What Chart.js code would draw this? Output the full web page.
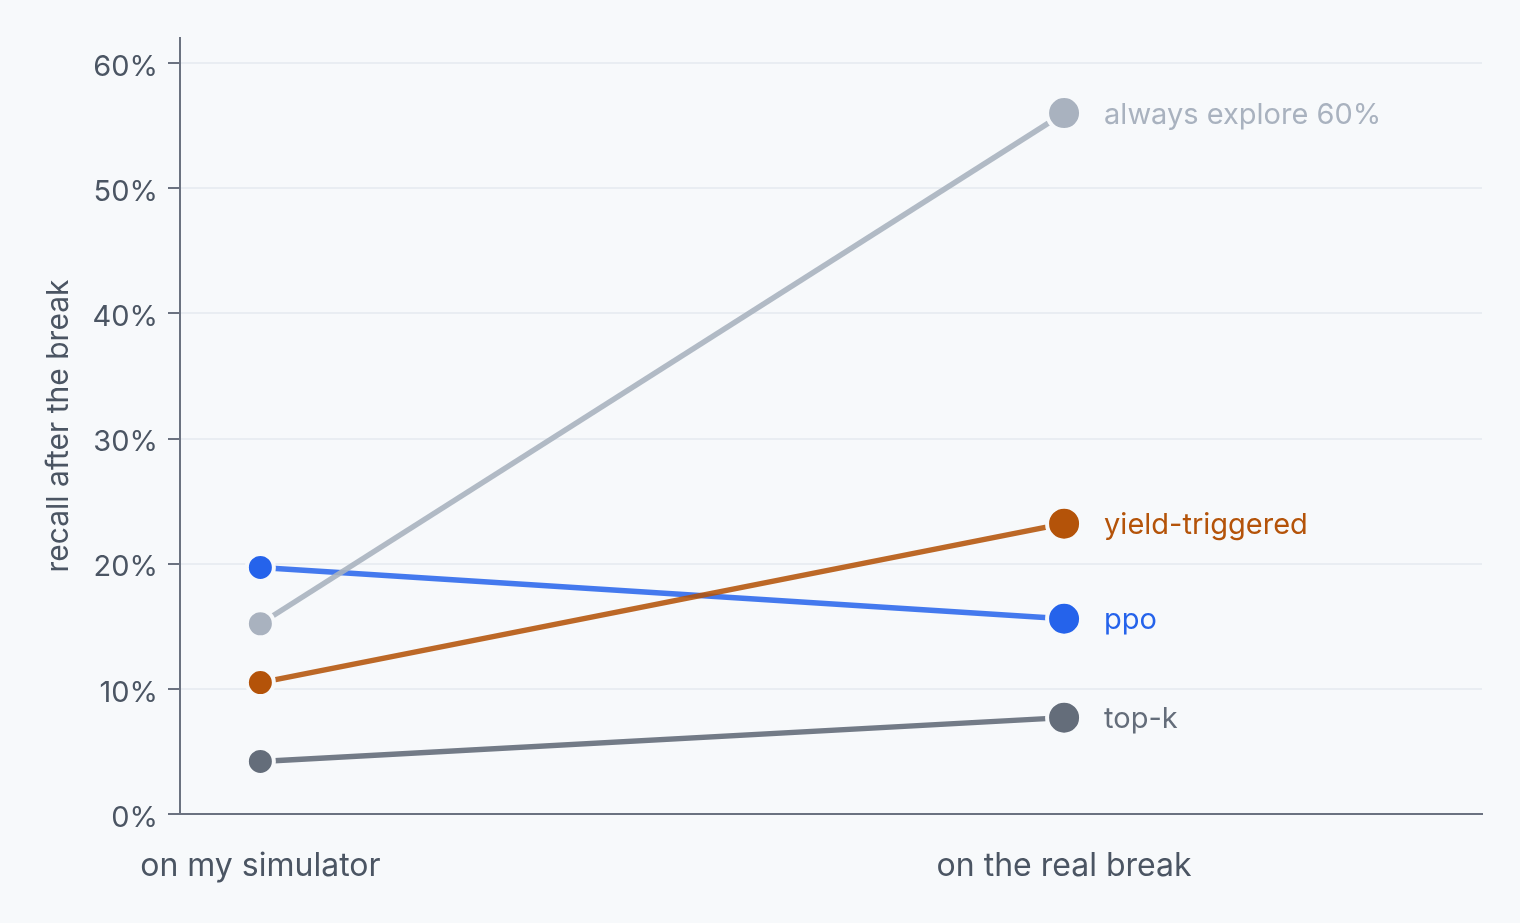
<!DOCTYPE html>
<html><head><meta charset="utf-8">
<script src="https://cdn.jsdelivr.net/npm/chart.js@4"></script>
<style>
html,body{margin:0;padding:0;background:#f7f9fb;}
#wrap{width:1520px;height:923px;}
</style></head>
<body><div id="wrap"><canvas id="c" width="1520" height="923"></canvas></div>
<script>
const categories = ['on my simulator', 'on the real break'];
const seriesNames = ['always explore 60%', 'yield-triggered', 'ppo', 'top-k'];
const alwaysExplore = [15.2, 56.0];
const yieldTriggered = [10.5, 23.2];
const ppo = [19.7, 15.6];
const topK = [4.2, 7.7];
const yTicks = [0, 10, 20, 30, 40, 50, 60];
const seriesValues = [alwaysExplore, yieldTriggered, ppo, topK];
const seriesColors = ['#a9b2bf', '#b45309', '#2563eb', '#646d7a'];
const lineColors = ['rgba(169,178,191,0.9)', 'rgba(180,83,9,0.88)', 'rgba(37,99,235,0.85)', 'rgba(100,109,122,0.9)'];
const BG = '#f7f9fb';
const FONT = 'Inter, "Noto Sans", sans-serif';

const datasets = seriesValues.map((vals, i) => ({
  label: seriesNames[i],
  data: vals.map((v, j) => ({x: j, y: v})),
  borderColor: lineColors[i],
  backgroundColor: seriesColors[i],
  pointBackgroundColor: seriesColors[i],
  pointBorderColor: BG,
  pointBorderWidth: 4,
  pointRadius: [13.5, 17],
  pointHoverRadius: [13.5, 17],
  borderWidth: 5.5,
  tension: 0,
  clip: false
}));

const endLabels = {
  id: 'endLabels',
  afterDatasetsDraw(chart) {
    const ctx = chart.ctx;
    ctx.save();
    ctx.font = '29px ' + FONT;
    ctx.textBaseline = 'middle';
    ctx.textAlign = 'left';
    chart.data.datasets.forEach((ds, i) => {
      const meta = chart.getDatasetMeta(i);
      const pt = meta.data[meta.data.length - 1];
      ctx.fillStyle = seriesColors[i];
      ctx.fillText(seriesNames[i], pt.x + 40, pt.y + 2);
    });
    ctx.restore();
  }
};

new Chart(document.getElementById('c'), {
  type: 'line',
  data: {datasets},
  plugins: [endLabels],
  options: {
    responsive: false,
    animation: false,
    devicePixelRatio: 1,
    layout: {padding: {left: 41, top: 38, right: 38, bottom: 0}},
    plugins: {legend: {display: false}, tooltip: {enabled: false}},
    scales: {
      x: {
        type: 'linear',
        min: -0.1, max: 1.52,
        afterBuildTicks(s) { s.ticks = categories.map((c, i) => ({value: i})); },
        afterFit(s) { s.height = 109; },
        grid: {display: false, drawTicks: false},
        border: {display: true, color: '#6b7280', width: 2},
        ticks: {
          padding: 33,
          color: '#4b5563',
          font: {family: FONT, size: 32},
          callback: (v) => categories[v] ?? ''
        }
      },
      y: {
        type: 'linear',
        min: 0, max: 62,
        afterBuildTicks(s) { s.ticks = yTicks.map(v => ({value: v})); },
        afterFit(s) { s.width = 139; },
        grid: {color: '#e9edf2', lineWidth: 2, tickColor: '#6b7280', tickLength: 12, drawTicks: true},
        border: {display: true, color: '#6b7280', width: 2},
        ticks: {
          padding: 10,
          labelOffset: 4,
          color: '#4b5563',
          font: {family: FONT, size: 29},
          callback: (v) => v + '%'
        },
        title: {
          display: true,
          text: 'recall after the break',
          color: '#4b5563',
          font: {family: FONT, size: 30},
          padding: {top: 0, bottom: 0}
        }
      }
    }
  }
});
</script></body></html>
